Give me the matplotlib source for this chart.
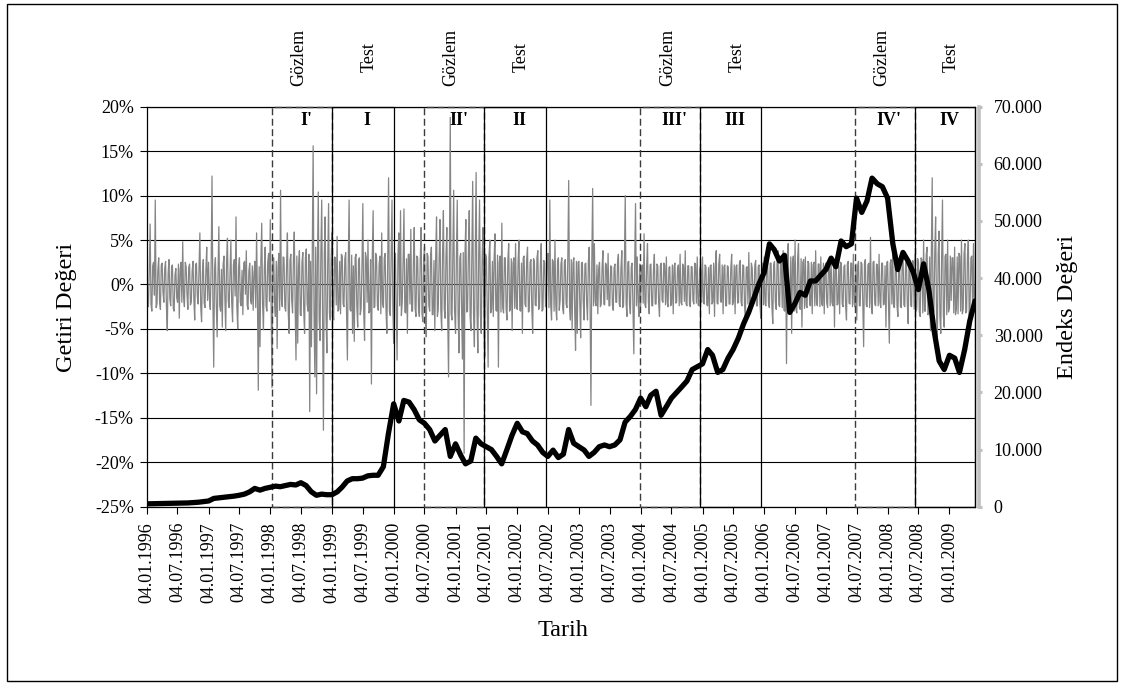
import matplotlib
matplotlib.use("Agg")
import matplotlib.pyplot as plt
import matplotlib.dates as mdates
import matplotlib.transforms as mtransforms
from matplotlib.patches import Rectangle
from matplotlib.ticker import FuncFormatter, FixedLocator
import pandas as pd

plt.rcParams['font.family'] = ['Liberation Serif', 'DejaVu Serif']
plt.rcParams['axes.unicode_minus'] = False

# ---- ISE-100 index level, one value per month (4th of each month) ----
idx_1996 = [500, 520, 540, 560, 580, 600, 610, 620, 660, 720, 780, 880]
idx_1997 = [1000, 1450, 1550, 1650, 1750, 1850, 2000, 2200, 2600, 3200, 2900, 3200]
idx_1998 = [3400, 3600, 3500, 3700, 3900, 3800, 4200, 3700, 2600, 2000, 2200, 2100]
idx_1999 = [2100, 2600, 3400, 4500, 4900, 4900, 5000, 5400, 5500, 5500, 7000, 12800]
idx_2000 = [18000, 15000, 18600, 18300, 17000, 15200, 14600, 13500, 11500, 12500, 13500, 8800]
idx_2001 = [11000, 9000, 7500, 8000, 12000, 11000, 10500, 10000, 8800, 7500, 10000, 12500]
idx_2002 = [14600, 13100, 12800, 11500, 10800, 9500, 8800, 9900, 8600, 9200, 13500, 11100]
idx_2003 = [10500, 9900, 8800, 9500, 10500, 10800, 10500, 10800, 11700, 14800, 15800, 17000]
idx_2004 = [19000, 17500, 19500, 20200, 16000, 17500, 19000, 20000, 21000, 22000, 24000, 24500]
idx_2005 = [25000, 27500, 26500, 23500, 24000, 26000, 27500, 29500, 32000, 34000, 36500, 39000]
idx_2006 = [41000, 46000, 45000, 43000, 44000, 34000, 35500, 37500, 37000, 39500, 39500, 40500]
idx_2007 = [41500, 43500, 42000, 46500, 45500, 46000, 54000, 51500, 53500, 57500, 56500, 56000]
idx_2008 = [54000, 46000, 41500, 44500, 43000, 41000, 38000, 42500, 38000, 31000, 25500, 24000]
idx_2009 = [26500, 26000, 23500, 27500, 32500, 36000]

# ---- return series, about every five days (percent) ----
ret_1996 = [6.0, -1.8, -2.5, 1.4, 6.8, -2.2, -3.0, 2.1, 2.5, -1.2, 9.5, -2.6, -2.2, 1.6, 3.0, -1.9, -2.8, 2.2,
            2.4, -0.9, -2.0, 1.8, 2.6, -2.4, -5.2, 1.3, 2.8, -1.6, -2.4, 2.0, 2.2, -2.7, -3.0, 1.1, 1.8, -1.5,
            -2.0, 2.3, -3.8, 1.7, 2.5, -2.0, 4.8, -1.4, -2.5, 2.5, 2.0, -1.1, -2.8, 1.9, 2.3, -2.3, -2.0, 1.5,
            2.6, -1.7, -4.0, 2.2, 2.4, -1.3, -2.2, 2.0, 5.8, -2.5, -4.2, 1.4, 2.8, -2.1, -2.6, 1.6, 4.2, -1.8]
ret_1997 = [2.5, -1.6, -2.8, 2.0, 12.2, -1.4, -9.3, 1.8, 3.0, -2.2, -5.9, 1.2, 6.5, -2.4, -3.0, 1.7, -4.8, 2.3,
            3.2, -1.5, -5.2, 2.6, 5.2, -1.9, -2.6, 1.4, 5.0, -2.1, -4.2, 2.2, 2.8, -1.3, 7.6, -2.5, -5.0, 1.9,
            3.0, -2.0, -2.4, 1.6, -3.4, 2.4, 2.6, -1.1, 3.8, -2.3, -2.8, 1.5, 2.4, -1.8, -2.2, 2.1, -2.9, 1.3,
            2.6, -2.6, 5.8, -1.7, -11.9, 2.0, -7.0, 2.7, 6.9, -2.2, -5.1, 1.8, 4.2, -2.4, -3.0, 2.5, 3.5, -1.9]
ret_1998 = [7.3, -2.4, -11.6, 2.8, 3.0, -2.1, -3.6, 2.6, -7.2, 1.9, 3.5, -2.9, 10.6, -1.7, -2.5, 3.1, 3.0, -2.6,
            -3.0, 2.2, 5.8, -3.3, -5.5, 2.7, 3.4, -1.8, -3.2, 2.9, 5.9, -2.4, -8.5, 3.2, -6.6, 2.0, 3.8, -3.4,
            -3.5, 2.5, 3.6, -2.8, -5.5, 3.0, 4.0, -2.2, -3.0, 3.4, -14.3, 2.6, -7.0, 3.6, 15.6, -3.1, -10.4, 4.2,
            -12.3, 2.8, 10.4, -3.8, -6.3, 3.5, 9.5, -2.9, -16.4, 3.3, 7.6, -3.6, -7.7, 2.4, 9.1, -3.2, -4.0, 2.9]
ret_1999 = [5.8, -2.7, -4.0, 3.1, 3.0, -2.3, 5.4, -3.0, -2.8, 2.6, -3.3, 3.4, 3.2, -2.2, -2.5, 2.9, 3.6, -3.1,
            -8.5, 2.4, 9.5, -2.8, -3.0, 3.3, -5.5, 2.1, -6.4, 3.0, 3.4, -2.5, -4.8, 2.7, 3.0, -3.4, -2.7, 2.2,
            9.1, -2.9, -6.3, 3.6, 3.0, -2.0, 5.0, -3.2, -3.0, 2.8, -11.2, 3.1, 8.3, -2.6, -2.5, 3.5, 3.0, -2.4,
            -2.9, 2.3, 3.2, -3.3, 5.8, -2.1, -2.6, 3.0, 3.5, -2.8, -5.5, 2.6, 12.0, -3.0, -3.5, 3.4, 9.5, -2.7]
ret_2000 = [-6.6, 3.0, 3.5, -2.8, -8.5, 3.3, 5.8, -2.4, 8.3, -3.5, -2.0, 2.6, 8.5, -3.1, -3.2, 2.9, -5.5, 3.4,
            3.4, -2.2, 6.2, -3.0, -3.0, 2.5, 6.4, -2.7, -3.6, 3.2, 3.0, -2.9, -3.6, 2.8, 6.4, -3.3, -4.2, 3.0,
            4.2, -2.6, -5.9, 3.5, 3.2, -2.4, -3.0, 3.1, 4.2, -3.4, -3.4, 2.7, -5.2, 3.3, 7.6, -3.6, -2.8, 2.9,
            7.3, -3.0, -5.2, 3.4, 8.3, -2.8, -3.8, 3.2, 6.4, -3.5, -10.4, 3.0, 18.8, -3.3, -4.0, 3.6, 10.6, -2.9]
ret_2001 = [-5.5, 3.2, 9.5, -3.4, -7.7, 3.0, 3.5, -2.8, -8.4, 3.6, -19.0, 3.3, 7.3, -3.1, -3.0, 3.4, 8.3, -3.6,
            -5.2, 3.0, 11.6, -3.3, -7.0, 3.5, 12.6, -2.9, -7.7, 3.2, 9.5, -3.4, -5.5, 2.8, 6.4, -3.0, -8.1, 3.4,
            3.0, -2.7, -9.3, 3.1, 5.0, -3.2, -2.8, 2.6, -3.6, 3.0, 5.7, -2.9, -3.0, 3.3, -9.3, 2.5, 3.2, -3.1,
            6.9, -2.6, -3.2, 3.0, 3.0, -2.8, -4.0, 2.7, 4.6, -3.0, -2.8, 2.9, -5.2, 2.4, 3.0, -2.7, 4.6, -2.5]
ret_2002 = [-2.8, 2.6, 5.0, -2.9, -3.0, 2.4, -5.5, 3.0, 3.2, -2.2, -2.5, 2.8, 4.2, -3.1, -3.0, 2.5, 2.8, -2.7,
            -5.5, 2.9, 2.6, -2.3, -2.4, 3.0, 3.8, -2.8, -2.6, 2.4, 4.6, -3.0, -2.8, 2.7, 2.5, -2.5, -1.8, 2.9,
            3.5, -2.6, 9.5, -2.2, -4.0, 2.8, 2.6, -3.0, 5.0, -2.4, -4.0, 2.6, 3.0, -2.9, -1.8, 2.3, 3.0, -2.7,
            -3.3, 2.5, 2.8, -2.2, -2.6, 3.0, 11.7, -2.5, -4.0, 2.8, -5.1, 2.4, 3.0, -2.9, -7.4, 2.6, -5.5, 2.5]
ret_2003 = [2.6, -2.2, -6.0, 2.4, 2.5, -1.9, -4.0, 2.3, 2.4, -2.1, -4.0, 2.6, 4.2, -2.3, -13.6, 2.5, 10.8, -2.4,
            4.6, -2.0, -2.4, 2.2, -3.3, 1.8, 2.5, -2.5, -2.2, 2.0, 3.8, -2.2, -2.3, 2.4, 2.2, -1.7, 3.5, -2.4,
            -2.4, 2.1, 2.0, -2.3, -2.9, 1.9, 2.3, -2.0, -2.0, 2.4, 3.4, -2.2, -2.5, 1.8, 3.8, -2.6, -2.4, 2.2,
            10.0, -2.1, -3.6, 2.5, 2.6, -2.3, -3.3, 2.0, 2.4, -2.5, -7.8, 2.2, 9.1, -2.4, 3.1, -2.0, -3.6, 2.3]
ret_2004 = [-2.4, 1.8, 2.2, -2.1, 5.7, -2.3, -2.6, 2.0, 4.6, -1.9, -3.3, 2.2, 2.3, -2.4, -2.4, 1.7, 3.4, -2.2,
            -2.2, 2.3, 2.1, -2.0, -3.6, 2.1, 2.4, -1.8, -2.0, 2.4, 2.2, -2.3, 3.1, -2.0, -2.5, 1.9, 2.0, -2.4,
            -2.2, 2.2, -3.3, 2.0, 2.4, -2.1, -2.0, 1.8, 2.2, -2.4, 3.4, -2.0, -2.3, 2.3, 2.0, -1.9, 3.8, -2.2,
            -2.4, 2.1, 2.1, -2.3, -2.5, 2.0, 2.0, -1.8, -2.2, 2.4, 2.3, -2.1, 3.1, -2.3, -2.4, 1.9, 2.2, -2.0]
ret_2005 = [3.1, -2.0, -2.2, 2.2, 2.0, -2.3, -2.4, 1.9, -3.3, 2.1, 2.2, -2.2, -2.0, 2.4, -3.6, 2.0, 3.8, -2.1,
            -2.2, 2.3, 3.4, -1.9, -2.0, 2.2, -3.3, 2.0, 2.2, -2.4, -2.4, 2.1, 2.0, -2.2, -2.2, 1.8, 3.4, -2.3,
            -2.0, 2.2, -3.3, 2.0, 2.2, -2.1, -2.0, 2.3, 2.7, -2.0, -2.4, 2.2, 2.1, -2.3, -3.6, 1.9, 2.0, -2.2,
            3.6, -2.0, -2.3, 2.4, 1.8, -2.1, -2.1, 2.2, 2.7, -2.4, -2.4, 2.0, 2.2, -2.2, -3.8, 2.1, 2.4, -2.3]
ret_2006 = [3.1, -2.2, -2.4, 2.3, 2.5, -2.1, -2.6, 2.4, 2.4, -2.5, -4.4, 2.2, 2.6, -2.0, -2.8, 2.5, 3.8, -2.3,
            -2.5, 2.4, 2.6, -2.6, 3.8, -2.9, -3.0, 2.8, -8.9, 3.0, 4.6, -2.7, -3.0, 3.1, -5.5, 2.6, 3.2, -3.0,
            5.0, -2.8, -3.2, 3.0, 4.6, -2.6, -2.8, 2.9, -4.8, 2.5, 2.8, -2.7, 3.1, -2.4, -2.6, 2.6, 2.4, -2.3,
            -2.4, 2.5, -3.3, 2.2, 2.5, -2.4, 3.8, -2.1, -2.4, 2.3, 2.3, -2.5, 3.1, -2.2, -2.4, 2.4, -3.3, 2.1]
ret_2007 = [2.4, -2.1, -2.6, 2.3, 2.2, -2.4, 3.1, -2.0, -2.4, 2.2, -4.8, 2.4, 2.5, -2.3, -2.2, 2.1, -3.3, 2.5,
            2.4, -2.2, -2.5, 2.0, 2.2, -2.4, -4.0, 2.3, 2.6, -2.1, -2.2, 2.4, 2.4, -2.5, 3.4, -2.2, -2.5, 2.3,
            -4.0, 2.1, 2.6, -2.4, -2.4, 2.5, 2.3, -2.0, -7.0, 2.4, 2.8, -2.3, -2.5, 2.2, 2.4, -2.6, 5.3, -2.1,
            -3.3, 2.5, 2.6, -2.2, -2.4, 2.3, 2.2, -2.4, 3.4, -2.0, -2.6, 2.4, 2.4, -2.3, -2.2, 2.1, -4.8, 2.5]
ret_2008 = [2.6, -2.3, -6.6, 2.4, 2.8, -2.2, 3.8, -2.5, -2.6, 2.3, 2.5, -2.4, -3.6, 2.2, 2.4, -2.5, -2.6, 2.4,
            3.4, -2.3, -2.5, 2.5, 2.6, -2.2, -4.4, 2.6, 2.4, -2.4, -2.5, 2.7, 2.6, -2.8, 3.4, -3.0, -2.8, 2.9,
            2.5, -3.1, -3.6, 3.0, 2.8, -3.2, 5.0, -3.0, -3.0, 3.3, 4.2, -3.4, -3.2, 3.1, -5.2, 3.5, 12.0, -3.3,
            -3.0, 3.6, 7.6, -3.2, -5.9, 3.4, 6.0, -3.6, -5.5, 3.0, 9.5, -3.5, -4.8, 3.2, 3.4, -3.4, 5.0, -3.1]
ret_2009 = [-2.6, 3.2, -1.8, 3.0, 3.0, -3.2, 4.2, -3.4, -2.8, 3.1, -3.3, 3.5, 3.2, -3.0, 5.0, -3.3,
            -2.8, 3.4, 4.6, -3.2, -3.0, 3.3, 5.0, -3.5, -2.5, 3.0, 3.2, -3.1, 4.6, -3.0, -1.8, 3.2]

years = list(range(1996, 2010))
index_lists = [idx_1996, idx_1997, idx_1998, idx_1999, idx_2000, idx_2001, idx_2002,
               idx_2003, idx_2004, idx_2005, idx_2006, idx_2007, idx_2008, idx_2009]
return_lists = [ret_1996, ret_1997, ret_1998, ret_1999, ret_2000, ret_2001, ret_2002,
                ret_2003, ret_2004, ret_2005, ret_2006, ret_2007, ret_2008, ret_2009]

# observation (Gözlem) and test windows
windows = [
    ("I'",   "1998-01-14", "1999-01-04", "obs"),
    ("I",    "1999-01-04", "2000-01-04", "test"),
    ("II'",  "2000-07-01", "2001-06-22", "obs"),
    ("II",   "2001-06-22", "2002-06-24", "test"),
    ("III'", "2004-01-02", "2004-12-22", "obs"),
    ("III",  "2004-12-22", "2005-12-18", "test"),
    ("IV'",  "2007-06-25", "2008-06-12", "obs"),
    ("IV",   "2008-06-12", "2009-06-04", "test"),
]

# ---- build date-indexed series ----
idx_dates, idx_vals = [], []
for y, vals in zip(years, index_lists):
    for m, v in enumerate(vals):
        idx_dates.append(pd.Timestamp(y, m + 1, 4))
        idx_vals.append(v)

ret_dates, ret_vals = [], []
step = 365.25 / 72
for y, vals in zip(years, return_lists):
    start = pd.Timestamp(y, 1, 4)
    for k, v in enumerate(vals):
        ret_dates.append(start + pd.Timedelta(days=k * step))
        ret_vals.append(v)

W, H = 1124, 688
fig = plt.figure(figsize=(W / 100, H / 100), dpi=100)
fig.patch.set_facecolor('white')

left, right, top, bottom = 146.7, 975.0, 106.7, 506.7
ax = fig.add_axes([left / W, 1 - bottom / H, (right - left) / W, (bottom - top) / H])
ax2 = ax.twinx()

x_start = pd.Timestamp(1996, 1, 4)
x_end = idx_dates[-1]

# return series (left axis)
ax.plot(ret_dates, ret_vals, color='#858585', lw=0.9, zorder=2)
ax.set_ylim(-25, 20)
ax.set_yticks(range(-25, 21, 5))
ax.yaxis.set_major_formatter(FuncFormatter(lambda v, p: f"{int(round(v))}%"))
ax.yaxis.grid(True, color='black', lw=0.8)
ax.set_axisbelow(True)
ax.set_xlim(x_start, x_end)

# index level (right axis)
ax2.plot(idx_dates, idx_vals, color='black', lw=3.8, solid_joinstyle='round',
         solid_capstyle='round', zorder=3)
ax2.set_ylim(0, 70000)
ax2.set_yticks(range(0, 70001, 10000))
ax2.yaxis.set_major_formatter(FuncFormatter(lambda v, p: f"{int(v):,}".replace(",", ".")))
ax2.set_xlim(x_start, x_end)

# x ticks every half year
tick_dates = []
for y in years:
    tick_dates.append(pd.Timestamp(y, 1, 4))
    if y < 2009:
        tick_dates.append(pd.Timestamp(y, 7, 4))
ax.xaxis.set_major_locator(FixedLocator(mdates.date2num(tick_dates)))
ax.xaxis.set_major_formatter(mdates.DateFormatter('%d.%m.%Y'))
ax.tick_params(axis='x', direction='out', length=5, width=0.8, pad=6, labelsize=13,
               labelrotation=90)
ax.tick_params(axis='y', direction='out', length=4.8, width=0.8, pad=4.5, labelsize=13)
for lab in ax.get_xticklabels():
    lab.set_verticalalignment('top')
    lab.set_horizontalalignment('center')

# spines
for s in ['left', 'bottom', 'top', 'right']:
    ax.spines[s].set_color('black')
    ax.spines[s].set_linewidth(0.9)
for s in ['left', 'bottom', 'top']:
    ax2.spines[s].set_visible(False)
ax2.spines['right'].set_color('#c0c0c0')
ax2.spines['right'].set_linewidth(2.6)
ax2.spines['right'].set_position(('outward', 3))
ax2.tick_params(axis='y', direction='out', length=2.5, width=2.2, color='#c0c0c0',
                labelcolor='black', pad=8, labelsize=13)

# observation / test windows
for name, d0, d1, kind in windows:
    x0 = mdates.date2num(pd.Timestamp(d0))
    x1 = mdates.date2num(pd.Timestamp(d1))
    if kind == 'obs':
        rect = Rectangle((x0, -25), x1 - x0, 45, fill=False, ec='#3c3c3c', lw=1.0,
                         ls=(0, (5, 2.5)), zorder=5, clip_on=False)
        top_txt, dx_txt = "Gözlem", -3
    else:
        rect = Rectangle((x0, -25), x1 - x0, 45, fill=False, ec='black', lw=0.9,
                         zorder=5, clip_on=False)
        top_txt, dx_txt = "Test", 6
    ax.add_patch(rect)
    xc = (x0 + x1) / 2
    lab_tr = mtransforms.offset_copy(ax.transData, fig=fig, x=4.5, y=0, units='dots')
    ax.text(xc, 18.5, name, transform=lab_tr, ha='center', va='center',
            fontsize=13, fontweight='bold', zorder=6)
    top_tr = mtransforms.offset_copy(ax.get_xaxis_transform(), fig=fig, x=dx_txt, y=0,
                                     units='dots')
    ax.text(xc, 1 + (bottom - 57.5 - (bottom - top)) / (bottom - top), top_txt,
            transform=top_tr, rotation=90, ha='center', va='center', fontsize=13)

# axis titles
fig.text(66.7 / W, 1 - 307.5 / H, "Getiri Değeri", rotation=90, ha='center', va='center',
         fontsize=17.5)
fig.text(1068 / W, 1 - 306.7 / H, "Endeks Değeri", rotation=90, ha='center', va='center',
         fontsize=17.5)
fig.text(563.5 / W, 1 - 631 / H, "Tarih", ha='center', va='center', fontsize=17.5)

# chart frame
fig.patches.append(Rectangle((7 / W, 1 - 681 / H), (1117 - 7) / W, (681 - 4) / H,
                             transform=fig.transFigure, fill=False, ec='black', lw=1.0))

fig.savefig("out.png", dpi=100, facecolor='white')
